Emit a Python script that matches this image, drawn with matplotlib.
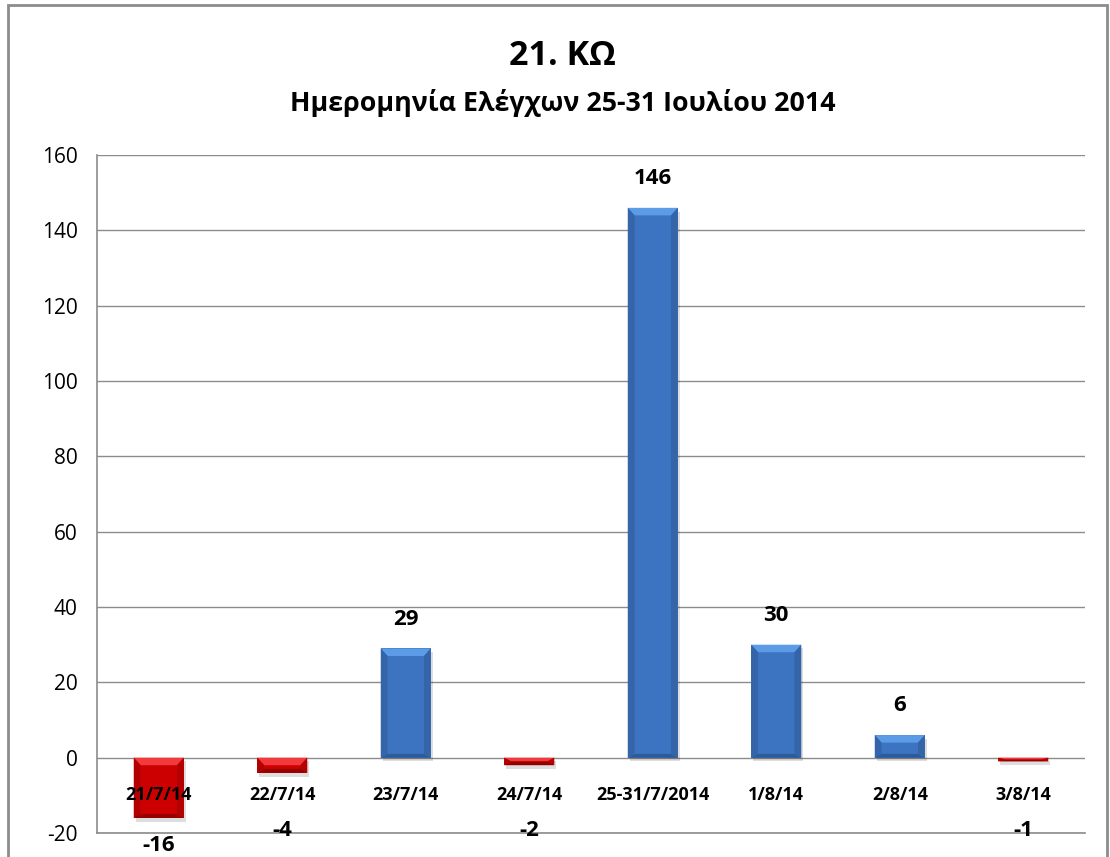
import numpy as np
import matplotlib.pyplot as plt
from matplotlib.patches import Rectangle, Polygon

plt.rcParams['font.family'] = ['Open Sans', 'DejaVu Sans']
plt.rcParams['axes.unicode_minus'] = False

categories = ['21/7/14', '22/7/14', '23/7/14', '24/7/14', '25-31/7/2014', '1/8/14', '2/8/14', '3/8/14']
values = [-16, -4, 29, -2, 146, 30, 6, -1]
yticks = [-20, 0, 20, 40, 60, 80, 100, 120, 140, 160]

fig = plt.figure(figsize=(11.1, 8.57), dpi=100)
ax = fig.add_axes([0.0874, 0.028, 0.8901, 0.791])

# outer chart frame
fig.patches.append(Rectangle((0.007, -0.02), 0.99, 1.014, transform=fig.transFigure,
                             fill=False, edgecolor='#8c8c8c', linewidth=2))

x = np.arange(len(categories))
width = 0.405
# body, top bevel, sides, bottom
blue = ['#3c74c2', '#5c9be6', '#3465a8', '#2d5b99']
red = ['#cc0000', '#f23a3a', '#b30000', '#940000']

bars = ax.bar(x, values, width=width, color='none', edgecolor='none', zorder=3)
for b, v in zip(bars, values):
    c = blue if v > 0 else red
    x0, w = b.get_x(), b.get_width()
    x1 = x0 + w
    y0, y1 = min(0, v), max(0, v)
    h = y1 - y0
    bx = 0.055
    by = min(2.0, h / 2)
    byb = min(1.0, h / 2)
    # soft shadow
    ax.add_patch(Rectangle((x0 + 0.015, y0 - 1.0), w, h, facecolor='#000000',
                           alpha=0.13, edgecolor='none', zorder=2))
    ax.add_patch(Rectangle((x0, y0), w, h, facecolor=c[0], edgecolor='none', zorder=3))
    ax.add_patch(Polygon([(x0, y1), (x1, y1), (x1 - bx, y1 - by), (x0 + bx, y1 - by)],
                         facecolor=c[1], edgecolor='none', zorder=4))
    ax.add_patch(Polygon([(x0, y0), (x1, y0), (x1 - bx, y0 + byb), (x0 + bx, y0 + byb)],
                         facecolor=c[3], edgecolor='none', zorder=4))
    ax.add_patch(Polygon([(x0, y0), (x0, y1), (x0 + bx, y1 - by), (x0 + bx, y0 + byb)],
                         facecolor=c[2], edgecolor='none', zorder=4))
    ax.add_patch(Polygon([(x1, y0), (x1, y1), (x1 - bx, y1 - by), (x1 - bx, y0 + byb)],
                         facecolor=c[2], edgecolor='none', zorder=4))

for xi, v in zip(x, values):
    if v >= 0:
        ax.annotate(str(v), (xi, v), xytext=(0, 21), textcoords='offset points',
                    ha='center', va='center', fontsize=16, fontweight='bold')
    else:
        ax.annotate(str(v), (xi, min(v, -12)), xytext=(0, -20), textcoords='offset points',
                    ha='center', va='center', fontsize=16, fontweight='bold',
                    annotation_clip=False)

for xi, c in zip(x, categories):
    ax.text(xi, -10, c, ha='center', va='center', fontsize=13, fontweight='bold', zorder=5)

ax.set_xlim(-0.5, len(categories) - 0.5)
ax.set_ylim(-20, 160)
ax.set_yticks(yticks)
ax.set_xticks([])
ax.tick_params(axis='y', length=0, pad=14, labelsize=15)
ax.grid(axis='y', color='#8c8c8c', linewidth=1, zorder=0)
ax.set_axisbelow(True)
for s in ['top', 'right']:
    ax.spines[s].set_visible(False)
for s in ['left', 'bottom']:
    ax.spines[s].set_color('#8c8c8c')
    ax.spines[s].set_linewidth(1.2)

fig.text(0.507, 0.935, '21. ΚΩ', ha='center', va='center', fontsize=24.5, fontweight='bold')
fig.text(0.507, 0.88, 'Ημερομηνία Ελέγχων 25-31 Ιουλίου 2014', ha='center', va='center',
         fontsize=19.3, fontweight='bold')

fig.savefig('out.png', dpi=100)
